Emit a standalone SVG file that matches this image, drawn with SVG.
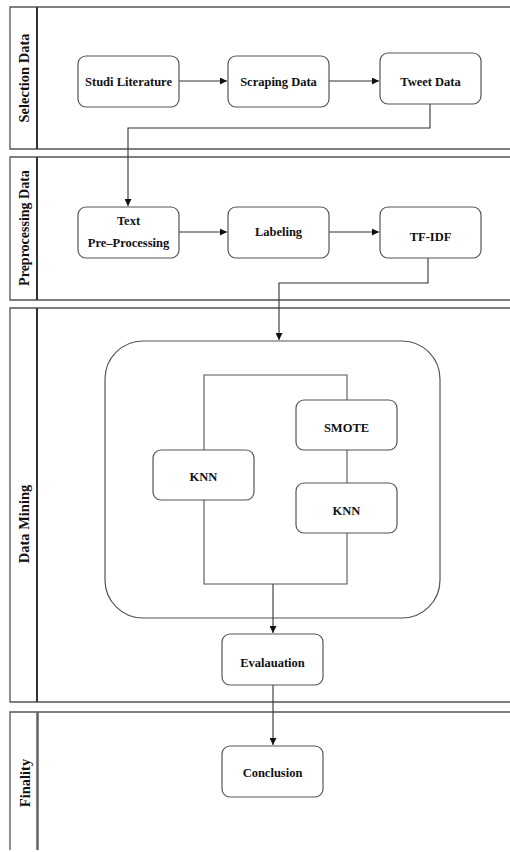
<svg xmlns="http://www.w3.org/2000/svg" width="510" height="852" viewBox="0 0 510 852">
<style>
.lane{fill:none;stroke:#555;stroke-width:1.3}
.div{fill:none;stroke:#333;stroke-width:2}
.node{fill:#fff;stroke:#555;stroke-width:1.2}
.t{font-family:"Liberation Serif","Times New Roman",serif;font-size:12.5px;font-weight:bold;fill:#111;text-anchor:middle}
.lt{font-family:"Liberation Serif","Times New Roman",serif;font-size:14.5px;font-weight:bold;fill:#111;text-anchor:middle}
.c{fill:none;stroke:#333;stroke-width:1.1}
</style>
<defs>
<marker id="ah" viewBox="0 0 10 10" refX="10" refY="5" markerWidth="7" markerHeight="7" markerUnits="userSpaceOnUse" orient="auto">
<path d="M0,0 L10,5 L0,10 Z" fill="#111"/>
</marker>
</defs>
<rect width="510" height="852" fill="#fff"/>
<g id="lanes">
<path class="lane" d="M512,7 H10 V149 H512"/>
<path class="div" d="M37,7 V149"/>
<text class="lt" transform="translate(29,78) rotate(-90)">Selection Data</text>
<path class="lane" d="M512,157 H10 V300 H512"/>
<path class="div" d="M37,157 V300"/>
<text class="lt" transform="translate(29,228) rotate(-90)" style="font-size:14px">Preprocessing Data</text>
<path class="lane" d="M512,308 H10 V702 H512"/>
<path class="div" d="M37,308 V702"/>
<text class="lt" transform="translate(29,524) rotate(-90)" style="font-weight:600;font-size:14.5px">Data Mining</text>
<path class="lane" d="M512,712 H10 V850"/>
<path class="div" d="M37.5,712 V850" style="stroke:#666;stroke-width:2.6"/>
<text class="lt" transform="translate(30,783) rotate(-90)">Finality</text>
</g>
<g id="container">
<rect class="node" x="105" y="341" width="335" height="277" rx="38"/>
</g>
<g id="connectors">
<path class="c" d="M179,81 H227" marker-end="url(#ah)"/>
<path class="c" d="M329,81 H379" marker-end="url(#ah)"/>
<path class="c" d="M430,104 V128 H128 V206" marker-end="url(#ah)"/>
<path class="c" d="M179,232 H227" marker-end="url(#ah)"/>
<path class="c" d="M329,232 H379" marker-end="url(#ah)"/>
<path class="c" d="M428,258 V283 H279 V340" marker-end="url(#ah)"/>
<path class="c" d="M204,375 H347 V584 H204 Z" style="stroke:#555"/>
<path class="c" d="M273,584 V633" marker-end="url(#ah)"/>
<path class="c" d="M273,685 V745" marker-end="url(#ah)"/>
</g>
<g id="studi"><rect class="node" x="78" y="56" width="101" height="51" rx="8"/><text class="t" x="128.5" y="85.5">Studi Literature</text></g>
<g id="scraping"><rect class="node" x="228" y="56" width="101" height="51" rx="8"/><text class="t" x="278.5" y="85.5">Scraping Data</text></g>
<g id="tweet"><rect class="node" x="380" y="53" width="101" height="51" rx="8"/><text class="t" x="430.5" y="85.5">Tweet Data</text></g>
<g id="textpre"><rect class="node" x="78" y="207" width="101" height="51" rx="8"/><text class="t" x="128.5" y="224.5">Text</text><text class="t" x="128.5" y="246.5">Pre–Processing</text></g>
<g id="labeling"><rect class="node" x="228" y="207" width="101" height="51" rx="8"/><text class="t" x="278.5" y="235.5">Labeling</text></g>
<g id="tfidf"><rect class="node" x="380" y="207" width="101" height="51" rx="8"/><text class="t" x="430.5" y="240.5">TF-IDF</text></g>
<g id="smote"><rect class="node" x="296" y="400" width="101" height="50" rx="8"/><text class="t" x="346.5" y="431.5">SMOTE</text></g>
<g id="knn1"><rect class="node" x="153" y="450" width="101" height="50" rx="8"/><text class="t" x="203.5" y="480.5">KNN</text></g>
<g id="knn2"><rect class="node" x="296" y="483" width="101" height="50" rx="8"/><text class="t" x="346.5" y="514.5">KNN</text></g>
<g id="evaluation"><rect class="node" x="222" y="634" width="101" height="51" rx="8"/><text class="t" x="272.5" y="666.5">Evalauation</text></g>
<g id="conclusion"><rect class="node" x="222" y="746" width="101" height="51" rx="8"/><text class="t" x="272.5" y="776.5">Conclusion</text></g>
</svg>
